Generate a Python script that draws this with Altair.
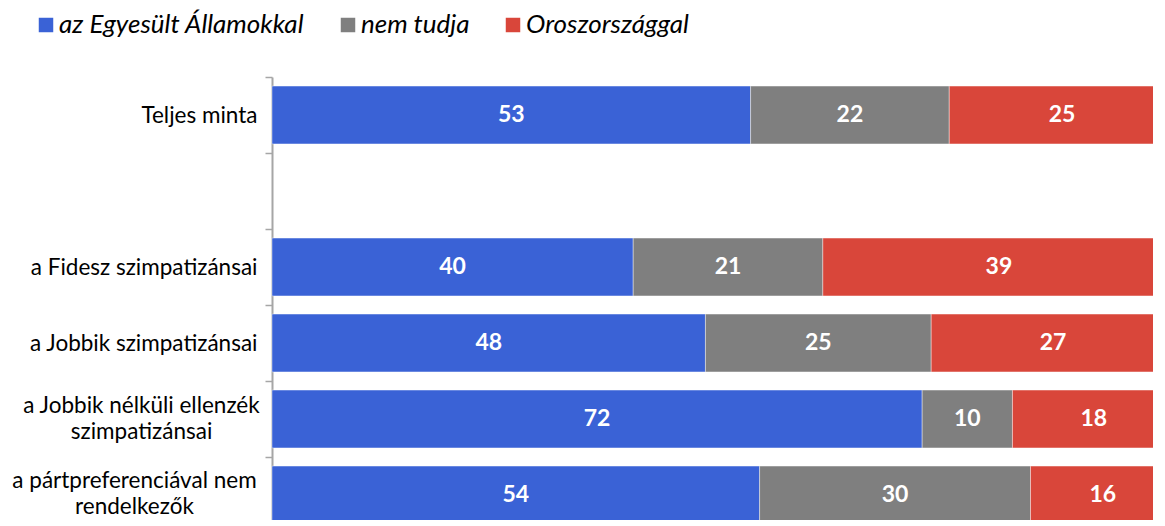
import altair as alt
import pandas as pd

categories = [
    "Teljes minta",
    " ",
    "a Fidesz szimpatizánsai",
    "a Jobbik szimpatizánsai",
    "a Jobbik nélküli ellenzék|szimpatizánsai",
    "a pártpreferenciával nem|rendelkezők",
]
series = ["az Egyesült Államokkal", "nem tudja", "Oroszországgal"]
usa = [53, None, 40, 48, 72, 54]
dontknow = [22, None, 21, 25, 10, 30]
russia = [25, None, 39, 27, 18, 16]
colors = ["#3A62D6", "#7F7F7F", "#D9463A"]

rows = []
for ci, cat in enumerate(categories):
    for si, vals in enumerate([usa, dontknow, russia]):
        if vals[ci] is not None:
            rows.append({"cat": cat, "idx": ci, "series": series[si], "order": si, "value": vals[ci]})
df = pd.DataFrame(rows)

FONT = "Lato"
y_scale = alt.Scale(domain=categories, range=[0, 456], paddingInner=0, paddingOuter=0)
x_scale = alt.Scale(domain=[0, 100], range=[0, 903], nice=False)

main_axis = alt.Axis(
    title=None,
    orient="left",
    tickBand="extent",
    domainColor="#A6A6A6",
    domainWidth=2,
    tickColor="#A6A6A6",
    tickWidth=1.5,
    tickSize=7,
    labelFont=FONT,
    labelFontSize=22.5,
    labelColor="#000000",
    labelLimit=400,
    labelPadding=8,
    labelExpr="indexof(datum.label, '|') >= 0 ? '' : datum.label",
)


def wrap_axis(cat, pad, off):
    return alt.Axis(
        title=None,
        orient="left",
        domain=False,
        ticks=False,
        tickSize=0,
        labelFont=FONT,
        labelFontSize=22.5,
        labelColor="#000000",
        labelLimit=400,
        labelLineHeight=26,
        labelAlign="center",
        labelPadding=pad,
        labelOffset=off,
        labelExpr="datum.label == '" + cat + "' ? split(datum.label, '|') : ''",
    )


bars = alt.Chart(df).mark_bar(
    height=alt.RelativeBandSize(0.76), stroke="#FFFFFF", strokeWidth=0.8, strokeOpacity=0.5
).encode(
    y=alt.Y("cat:N", sort=categories, scale=y_scale, axis=main_axis),
    x=alt.X("value:Q", stack="zero", scale=x_scale, axis=None),
    color=alt.Color(
        "series:N",
        scale=alt.Scale(domain=series, range=colors),
        legend=alt.Legend(
            title=None,
            orient="none",
            direction="horizontal",
            legendX=-239,
            legendY=-65,
            symbolType="square",
            symbolSize=210,
            symbolStrokeWidth=0,
            labelFont=FONT,
            labelFontStyle="italic",
            labelFontSize=26,
            labelColor="#000000",
            labelOffset=0,
            columnPadding=30,
            padding=0,
            labelLimit=400,
        ),
    ),
    order=alt.Order("order:Q"),
)

base_text = (
    alt.Chart(df)
    .transform_window(
        cum="sum(value)", groupby=["cat"], sort=[alt.SortField("order")], frame=[None, 0]
    )
    .transform_calculate(mid="datum.cum - datum.value / 2")
    .mark_text(font=FONT, fontSize=23, fontWeight="bold", color="#FFFFFF")
)

text_a = base_text.transform_filter("datum.idx < 4").encode(
    y=alt.Y("cat:N", sort=categories, axis=wrap_axis(categories[4], 131, -13)),
    x=alt.X("mid:Q", scale=x_scale, axis=None),
    text=alt.Text("value:Q"),
)

text_b = base_text.transform_filter("datum.idx >= 4").encode(
    y=alt.Y("cat:N", sort=categories, axis=wrap_axis(categories[5], 138, -14)),
    x=alt.X("mid:Q", scale=x_scale, axis=None),
    text=alt.Text("value:Q"),
)

chart = (
    alt.layer(bars, text_a, text_b)
    .resolve_axis(y="independent")
    .properties(
        width=881,
        height=443,
        autosize=alt.AutoSizeParams(type="none"),
        padding={"left": 264, "top": 69, "right": 0, "bottom": 0},
    )
    .configure_view(stroke=None)
)

chart.save("out.html", embed_options={"renderer": "svg", "actions": False})
